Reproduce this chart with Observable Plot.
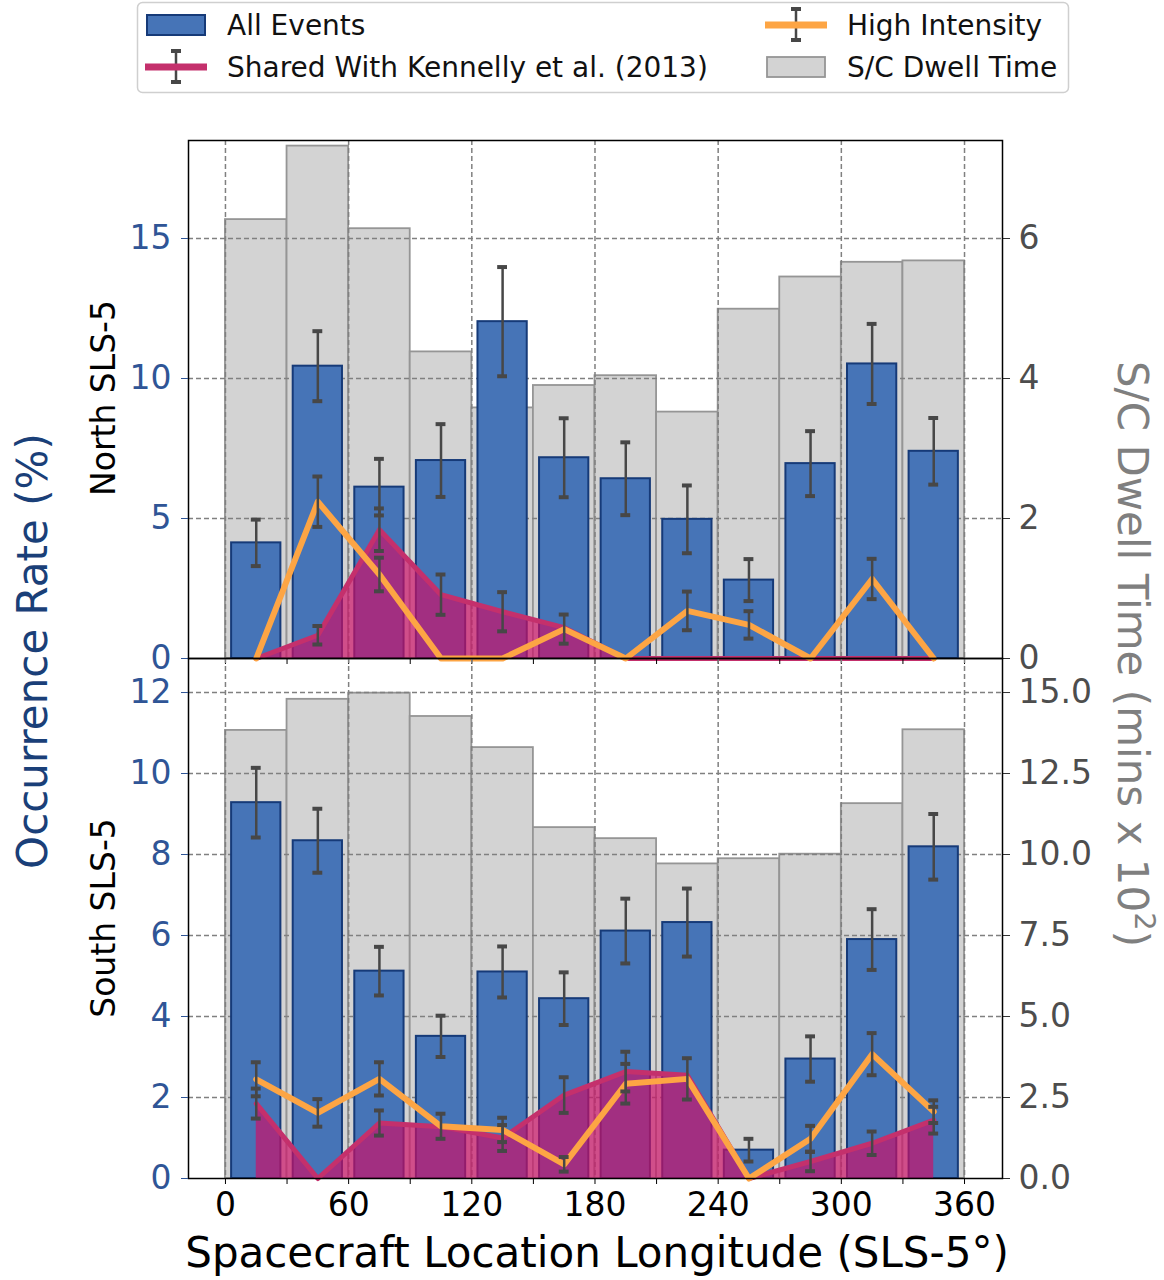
<!DOCTYPE html>
<html><head><meta charset="utf-8">
<script src="https://cdn.jsdelivr.net/npm/d3@7"></script>
<script src="https://cdn.jsdelivr.net/npm/@observablehq/plot@0.6"></script>
<style>
html,body{margin:0;padding:0;background:#fff;overflow:hidden;}
#chart{position:relative;width:1164px;height:1280px;font-family:"DejaVu Sans",sans-serif;}
#chart svg{position:absolute;left:0;top:0;}
</style></head><body><div id="chart"></div>
<script>
// ---- data ----
const lon = [15, 45, 75, 105, 135, 165, 195, 225, 255, 285, 315, 345];

const northDwell     = [6.27, 7.32, 6.14, 4.38, 3.58, 3.90, 4.04, 3.52, 4.99, 5.45, 5.66, 5.68];
const northAll       = [4.13, 10.44, 6.12, 7.07, 12.03, 7.17, 6.42, 4.97, 2.80, 6.96, 10.52, 7.40];
const northAllErr    = [0.83, 1.25, 1.01, 1.30, 1.95, 1.41, 1.30, 1.21, 0.75, 1.16, 1.43, 1.19];
const northHigh      = [0, 5.60, 3.00, 0, 0, 1.05, 0, 1.70, 1.20, 0, 2.84, 0];
const northHighErr   = [0, 0.90, 0.60, 0, 0, 0.52, 0, 0.69, 0.49, 0, 0.72, 0];
const northShared    = [0, 0.83, 4.60, 2.28, 1.67, 1.10, 0, 0, 0, 0, 0, 0];
const northSharedErr = [0, 0.33, 0.76, 0.72, 0.70, 0, 0, 0, 0, 0, 0, 0];

const southDwell     = [13.83, 14.79, 14.98, 14.26, 13.30, 10.83, 10.49, 9.71, 9.87, 10.01, 11.57, 13.85];
const southAll       = [9.28, 8.34, 5.12, 3.51, 5.10, 4.44, 6.11, 6.32, 0.70, 2.95, 5.90, 8.19];
const southAllErr    = [0.86, 0.79, 0.60, 0.51, 0.63, 0.65, 0.80, 0.84, 0.28, 0.56, 0.75, 0.81];
const southHigh      = [2.45, 1.62, 2.46, 1.29, 1.20, 0.35, 2.34, 2.46, 0, 0.98, 3.07, 1.65];
const southHighErr   = [0.42, 0.34, 0.41, 0.31, 0.30, 0.18, 0.49, 0.51, 0, 0.32, 0.52, 0.28];
const southShared    = [1.85, 0, 1.37, 1.28, 1.00, 2.06, 2.64, 2.55, 0, 0.42, 0.87, 1.44];
const southSharedErr = [0.37, 0, 0.31, 0, 0.32, 0.44, 0.49, 0, 0, 0.24, 0.29, 0.33];

const xTicks = [0, 30, 60, 90, 120, 150, 180, 210, 240, 270, 300, 330, 360];
const xLabelTicks = [0, 60, 120, 180, 240, 300, 360];
const northLeftTicks = [0, 5, 10, 15];
const northRightTicks = [0, 2, 4, 6];
const southLeftTicks = [0, 2, 4, 6, 8, 10, 12];
const southRightTicks = [0, 2.5, 5, 7.5, 10, 12.5, 15];

const legendLabels = ["All Events", "Shared With Kennelly et al. (2013)", "High Intensity", "S/C Dwell Time"];
const panelLabels = ["North SLS-5", "South SLS-5"];
const yTitle = "Occurrence Rate (%)";
const y2Title = ["S/C Dwell Time (mins x 10", "2", ")"];
const xTitle = "Spacecraft Location Longitude (SLS-5°)";

// ---- styling ----
const W = 1164, H = 1280;
const FONT = "DejaVu Sans";
const BLUE = "#4674b7", NAVY = "#163a78", GRAY = "#d3d3d3", GRAYEDGE = "#959595";
const MAG = "#ce0f67", MAGLINE = "#c4306c", ORANGE = "#fda544", ERR = "#474747";
const TICKBLUE = "#2f5596", TITLEBLUE = "#1a3f78";
const GRID = "#808080";
const X_DOMAIN = [-18, 378.5];
const CAP = 2.4;

function rows(dw, all, allE, hi, hiE, sh, shE) {
  return lon.map((l, i) => ({lon: l, dwell: dw[i], all: all[i], allErr: allE[i],
    high: hi[i], highErr: hiE[i], shared: sh[i], sharedErr: shE[i]}));
}
const north = rows(northDwell, northAll, northAllErr, northHigh, northHighErr, northShared, northSharedErr);
const south = rows(southDwell, southAll, southAllErr, southHigh, southHighErr, southShared, southSharedErr);

function errorMarks(data, key, errKey) {
  const d2 = data.filter(d => d[errKey] > 0);
  const lo = d => d[key] - d[errKey], hi = d => d[key] + d[errKey];
  return [
    Plot.ruleX(d2, {x: "lon", y1: lo, y2: hi, stroke: ERR, strokeWidth: 2.5}),
    Plot.ruleY(d2, {y: lo, x1: d => d.lon - CAP, x2: d => d.lon + CAP, stroke: ERR, strokeWidth: 4}),
    Plot.ruleY(d2, {y: hi, x1: d => d.lon - CAP, x2: d => d.lon + CAP, stroke: ERR, strokeWidth: 4})
  ];
}

const styleBase = {background: "transparent", overflow: "visible", fontFamily: FONT, fontSize: "33px"};

function grayLayer(data, top, bottom, rMax, rTicks, fmt) {
  return Plot.plot({
    width: W, height: H, marginLeft: 188, marginRight: W - 1002, marginTop: top, marginBottom: H - bottom,
    x: {domain: X_DOMAIN, axis: null},
    y: {domain: [0, rMax], axis: null},
    style: styleBase,
    marks: [
      Plot.rectY(data, {x1: d => d.lon - 15, x2: d => d.lon + 15, y: "dwell", fill: GRAY, stroke: GRAYEDGE, strokeWidth: 1.8}),
      Plot.axisY(rTicks, {anchor: "right", tickSize: 7, tickPadding: 9, fontSize: 33, fill: "#4d4d4d", stroke: "#333", tickFormat: fmt, label: null})
    ]
  });
}

function frontLayer(data, top, bottom, lMax, lTicks, withLabels) {
  return Plot.plot({
    width: W, height: H, marginLeft: 188, marginRight: W - 1002, marginTop: top, marginBottom: H - bottom,
    x: {domain: X_DOMAIN, axis: null},
    y: {domain: [0, lMax], axis: null},
    style: styleBase,
    marks: [
      Plot.gridX(xLabelTicks, {stroke: GRID, strokeOpacity: 1, strokeWidth: 1.5, strokeDasharray: "5,3"}),
      Plot.gridY(lTicks.filter(t => t > 0), {stroke: GRID, strokeOpacity: 1, strokeWidth: 1.5, strokeDasharray: "5,3"}),
      Plot.rectY(data, {x1: d => d.lon - 12, x2: d => d.lon + 12, y: "all", fill: BLUE, stroke: NAVY, strokeWidth: 2}),
      Plot.areaY(data, {x: "lon", y: "shared", fill: MAG, fillOpacity: 0.68}),
      Plot.lineY(data, {x: "lon", y: "shared", stroke: MAGLINE, strokeWidth: 5, strokeLinejoin: "round"}),
      Plot.lineY(data, {x: "lon", y: "high", stroke: ORANGE, strokeWidth: 6, strokeLinejoin: "round"}),
      errorMarks(data, "all", "allErr"),
      errorMarks(data, "shared", "sharedErr"),
      errorMarks(data, "high", "highErr"),
      Plot.frame({stroke: "#000", strokeWidth: 1.5}),
      Plot.axisY(lTicks, {anchor: "left", tickSize: 7, tickPadding: 10, fontSize: 33, fill: TICKBLUE, stroke: TICKBLUE, label: null}),
      Plot.axisX(xTicks, {anchor: "bottom", tickSize: 6, tickPadding: 8, fontSize: 33, fill: "#000", stroke: "#000", label: null,
        tickFormat: withLabels ? (d => (d % 60 === 0 ? String(d) : "")) : (() => "")})
    ]
  });
}

const chart = document.getElementById("chart");
const NT = 140, NB = 658, ST = 658, SB = 1178;
chart.append(grayLayer(north, NT, NB, 7.4, northRightTicks, d => String(d)));
chart.append(grayLayer(south, ST, SB, 16.05, southRightTicks, d => d.toFixed(1)));
chart.append(frontLayer(north, NT, NB, 18.5, northLeftTicks, false));
chart.append(frontLayer(south, ST, SB, 12.84, southLeftTicks, true));

// ---- legend and titles (text + swatches) ----
const ns = "http://www.w3.org/2000/svg";
const ann = document.createElementNS(ns, "svg");
ann.setAttribute("width", W); ann.setAttribute("height", H);
ann.setAttribute("font-family", FONT);
function errHandle(cx, cy, color) {
  return `<line x1="${cx}" y1="${cy-16}" x2="${cx}" y2="${cy+15}" stroke="${ERR}" stroke-width="2.5"/>
  <line x1="${cx-5}" y1="${cy-16}" x2="${cx+5}" y2="${cy-16}" stroke="${ERR}" stroke-width="4"/>
  <line x1="${cx-5}" y1="${cy+15}" x2="${cx+5}" y2="${cy+15}" stroke="${ERR}" stroke-width="4"/>
  <line x1="${cx-31}" y1="${cy}" x2="${cx+31}" y2="${cy}" stroke="${color}" stroke-width="7"/>`;
}
ann.innerHTML = `
<rect x="137.5" y="2.5" width="931" height="90" rx="5" fill="#fff" fill-opacity="0.9" stroke="#cfcfcf" stroke-width="1.5"/>
<rect x="147" y="15" width="58" height="20" fill="${BLUE}" stroke="${NAVY}" stroke-width="2"/>
<text x="227" y="35" font-size="28" fill="#111">${legendLabels[0]}</text>
${errHandle(176, 67, MAGLINE)}
<text x="227" y="77" font-size="28" fill="#111">${legendLabels[1]}</text>
${errHandle(796, 25, ORANGE)}
<text x="847" y="35" font-size="28" fill="#111">${legendLabels[2]}</text>
<rect x="767" y="57" width="58" height="20" fill="${GRAY}" stroke="${GRAYEDGE}" stroke-width="1.8"/>
<text x="847" y="77" font-size="28" fill="#111">${legendLabels[3]}</text>
<text transform="translate(47,651) rotate(-90)" text-anchor="middle" font-size="42" fill="${TITLEBLUE}">${yTitle}</text>
<text transform="translate(115,398) rotate(-90)" text-anchor="middle" font-size="33" fill="#000">${panelLabels[0]}</text>
<text transform="translate(115,918) rotate(-90)" text-anchor="middle" font-size="33" fill="#000">${panelLabels[1]}</text>
<text transform="translate(1118,654) rotate(90)" text-anchor="middle" font-size="42" fill="#7f7f7f">${y2Title[0]}<tspan dy="-17" font-size="29">${y2Title[1]}</tspan><tspan dy="17">${y2Title[2]}</tspan></text>
<text x="597" y="1267" text-anchor="middle" font-size="42" fill="#000">${xTitle}</text>
`;
chart.append(ann);
</script></body></html>
